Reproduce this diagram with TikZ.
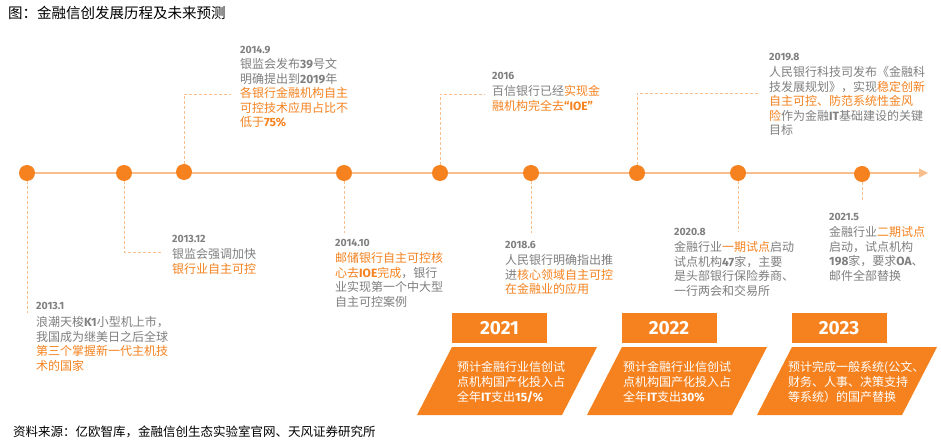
\documentclass[tikz,border=0pt]{standalone}
\usepackage{fontspec}
\setmainfont{Noto Sans CJK SC}
\newfontfamily\latb{Fira Sans}
\usetikzlibrary{arrows.meta}
\definecolor{org}{HTML}{F5821F}
\definecolor{lorg}{HTML}{F9BE8C}
\definecolor{gtxt}{HTML}{7F7F7F}
\newcommand\hl[1]{\textcolor{org}{#1}}
\newcommand\nm[1]{{\latb\bfseries #1}}
\tikzset{
  dot/.style={circle, fill=org, minimum size=16pt, inner sep=0pt},
  conn/.style={draw=lorg, dash pattern=on 3pt off 2pt, line width=0.9pt},
  datel/.style={anchor=west, inner sep=0pt, font=\latb\bfseries\fontsize{10.5}{12}\selectfont, text=gtxt},
  body/.style={anchor=north west, inner sep=0pt, align=left, font=\fontsize{12}{14.5}\selectfont, text=gtxt},
  hdr/.style={fill=org, text=white, font=\latb\bfseries\fontsize{19}{20}\selectfont, inner sep=0pt, minimum width=95pt, minimum height=30pt},
  ptext/.style={anchor=west, text=white, align=left, font=\fontsize{12}{15}\selectfont, inner sep=0pt},
  para/.style={fill=org}
}
\begin{document}
\begin{tikzpicture}[x=1pt,y=-1pt]
\useasboundingbox[fill=white] (0,0) rectangle (941,443);

% title and source
\node[anchor=west, inner sep=0pt, font=\fontsize{14.5}{16}\selectfont] (title) at (8,13) {图：金融信创发展历程及未来预测};
\node[anchor=west, inner sep=0pt, font=\fontsize{12.5}{14}\selectfont] (src) at (13,432) {资料来源：亿欧智库，金融信创生态实验室官网、天风证券研究所};

% main timeline
\coordinate (tl0) at (27,173);
\coordinate (tlend) at (928,173);
\draw[lorg, line width=1.3pt, -{Triangle[length=9pt,width=9pt]}] (tl0) -- (tlend);

% dots
\node[dot] (p1) at (27,173) {};
\node[dot] (p2) at (124,173) {};
\node[dot] (p3) at (184,172) {};
\node[dot] (p4) at (344,173) {};
\node[dot] (p5) at (440,173) {};
\node[dot] (p6) at (531,173) {};
\node[dot] (p7) at (637,173) {};
\node[dot] (p8) at (738,173) {};
\node[dot] (p9) at (862,174) {};

% connectors
\coordinate (c1) at (27,313);
\coordinate (c2) at (163,252);
\coordinate (c3) at (231,94);
\coordinate (c4) at (344,233);
\coordinate (c5) at (485,94);
\coordinate (c6) at (531,233);
\coordinate (c7) at (760,93);
\coordinate (c8) at (738,232);
\coordinate (c9) at (862,202);
\draw[conn] (p1) -- (c1);
\draw[conn] (p2) |- (c2);
\draw[conn] (p3) |- (c3);
\draw[conn] (p4) -- (c4);
\draw[conn] (p5) |- (c5);
\draw[conn] (p6) -- (c6);
\draw[conn] (p7) |- (c7);
\draw[conn] (p8) -- (c8);
\draw[conn] (p9) -- (c9);

% events
\node[datel] (d1) at (36,306) {2013.1};
\node[body] (t1) at (36,316.5) {浪潮天梭\nm{K1}小型机上市，\\我国成为继美日之后全球\\\hl{第三个掌握新一代主机技}\\\hl{术的国家}};

\node[datel] (d2) at (172,239) {2013.12};
\node[body] (t2) at (172,248.5) {银监会强调加快\\\hl{银行业自主可控}};

\node[datel] (d3) at (240,50) {2014.9};
\node[body] (t3) at (240,58.5) {银监会发布\nm{39}号文\\明确提出到\nm{2019}年\\\hl{各银行金融机构自主}\\\hl{可控技术应用占比不}\\\hl{低于\nm{75\%}}};

\node[datel] (d4) at (335,243) {2014.10};
\node[body] (t4) at (335,252.5) {\hl{邮储银行自主可控核}\\\hl{心去\nm{IOE}完成}，银行\\业实现第一个中大型\\自主可控案例};

\node[datel] (d5) at (492,76) {2016};
\node[body] (t5) at (492,85.5) {百信银行已经\hl{实现金}\\\hl{融机构完全去\nm{“IOE”}}};

\node[datel] (d6) at (505,245) {2018.6};
\node[body] (t6) at (505,254.5) {人民银行明确指出推\\进\hl{核心领域自主可控}\\\hl{在金融业的应用}};

\node[datel] (d7) at (769,57) {2019.8};
\node[body] (t7) at (769,66.5) {人民银行科技司发布《金融科\\技发展规划》，实现\hl{稳定创新}\\\hl{自主可控、防范系统性金风}\\\hl{险}作为金融\nm{IT}基础建设的关键\\目标};

\node[datel] (d8) at (674,232) {2020.8};
\node[body] (t8) at (674,241.5) {金融行业\hl{一期试点}启动\\试点机构\nm{47}家，主要\\是头部银行保险券商、\\一行两会和交易所};

\node[datel] (d9) at (829,217) {2021.5};
\node[body] (t9) at (829,226.5) {金融行业\hl{二期试点}\\启动，试点机构\\\nm{198}家，要求\nm{OA}、\\邮件全部替换};

% forecast boxes
\node[hdr] (h1) at (499.5,328) {2021};
\node[hdr] (h2) at (669,328) {2022};
\node[hdr] (h3) at (839,328) {2023};
\fill[para] (452,347) -- (597,347) -- (562,415) -- (417,415) -- cycle;
\fill[para] (622,347) -- (767,347) -- (732,415) -- (587,415) -- cycle;
\fill[para] (792,347) -- (937,347) -- (902,415) -- (757,415) -- cycle;
\node[ptext] (f1) at (457,382) {预计金融行业信创试\\点机构国产化投入占\\全年\nm{IT}支出\nm{15/\%}};
\node[ptext] (f2) at (623,382) {预计金融行业信创试\\点机构国产化投入占\\全年\nm{IT}支出\nm{30\%}};
\node[ptext] (f3) at (788,382) {预计完成一般系统(公文、\\财务、人事、决策支持\\等系统）的国产替换};
\end{tikzpicture}
\end{document}
